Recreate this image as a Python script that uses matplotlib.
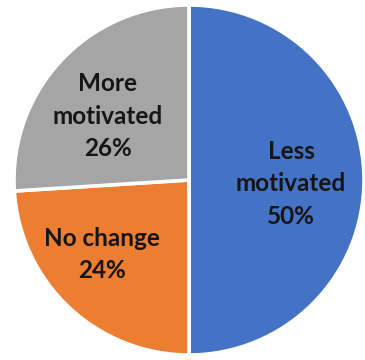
import numpy as np
import matplotlib
matplotlib.use("Agg")
import matplotlib.pyplot as plt

categories = ["Less\nmotivated", "No change", "More\nmotivated"]
values = [50, 24, 26]
colors = ["#4472C4", "#ED7D31", "#A5A5A5"]
# anchor of last text baseline, in pie-radius units
label_xy = [(0.583, -0.251), (-0.497, -0.560), (-0.463, 0.137)]

fig = plt.figure(figsize=(3.65, 3.6), dpi=100)
ax = fig.add_axes([14/365, 5/360, 350/365, 350/360])
wedges, _ = ax.pie(values, colors=colors, startangle=90, counterclock=False,
                   wedgeprops=dict(edgecolor="white", linewidth=2.6))
for cat, v, (x, y) in zip(categories, values, label_xy):
    ax.text(x, y, f"{cat}\n{v}%", ha="center", va="baseline",
            fontsize=17.5, fontweight="bold", family=["Lato", "DejaVu Sans"],
            color="#151515", linespacing=1.5)
ax.set_xlim(-1, 1)
ax.set_ylim(-1, 1)
ax.set_aspect("equal")
ax.axis("off")
fig.savefig("out.png", dpi=100)
